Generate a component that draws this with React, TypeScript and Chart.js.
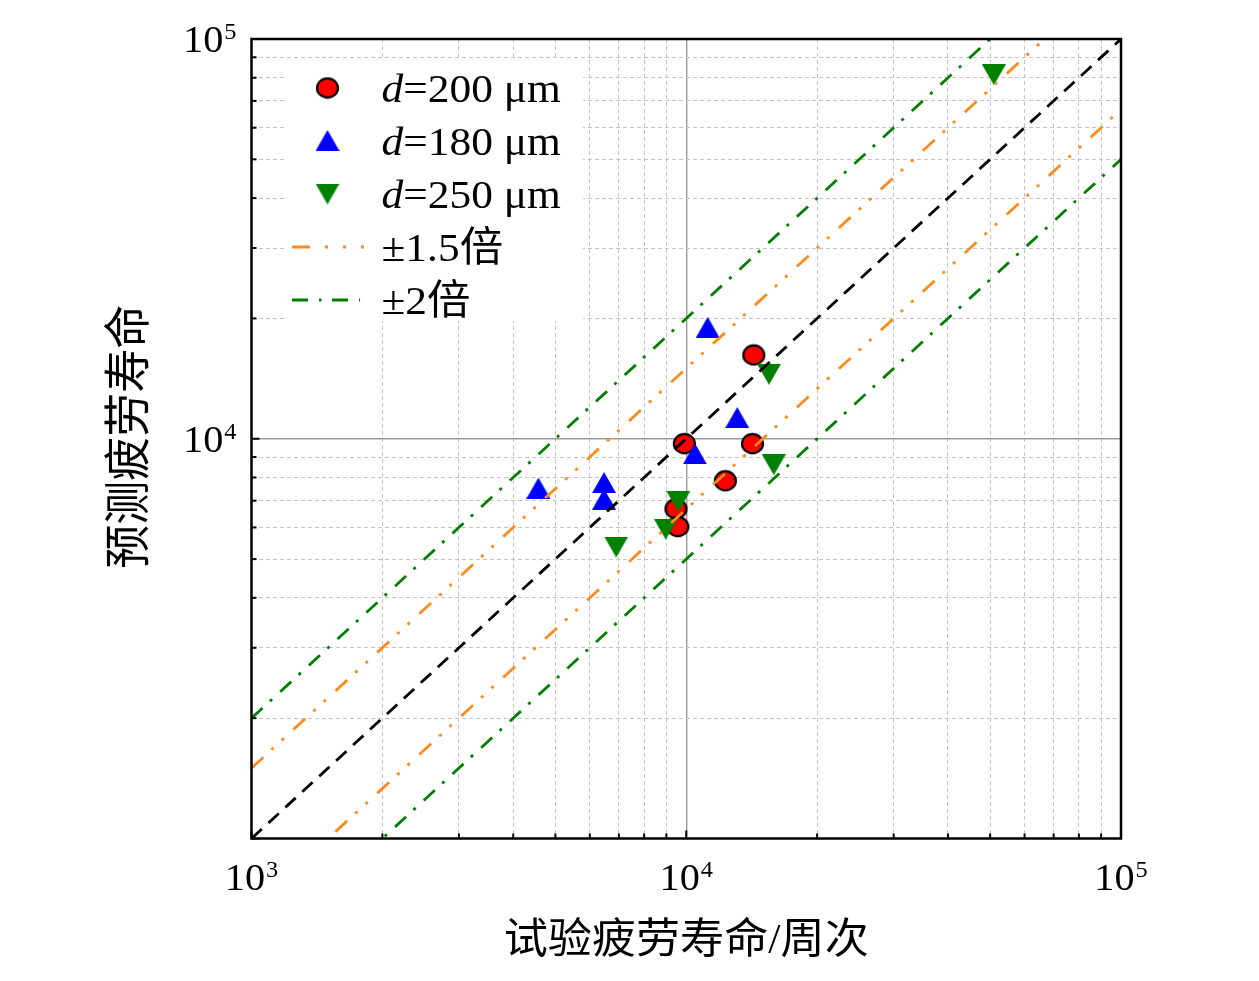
import React, { useEffect, useRef } from 'react';
import { Chart, registerables } from 'chart.js';

Chart.register(...registerables);

// ---- data ----
const redX = [9900, 14300, 14200, 12300, 9470, 9560];
const redY = [9720, 16200, 9720, 7850, 6680, 6030];
const blueX = [11200, 13100, 10470, 4570, 6470, 6470];
const blueY = [19000, 11300, 9170, 7530, 7770, 7060];
const greenX = [51000, 15500, 15900, 9590, 8970, 6900];
const greenY = [81400, 14500, 8610, 6970, 5940, 5360];

const lineX = [1000, 100000];
const ratioEqual = 1;
const ratioOrange = 1.5;
const ratioGreen = 2;

const legendLabels = ['200', '180', '250'];
const bandLabels = ['±1.5倍', '±2倍'];
const xTitle = '试验疲劳寿命/周次';
const yTitle = '预测疲劳寿命';

const xTickExps = [3, 4, 5];
const yTickExps = [4, 5];
const gridVals = [
  1000, 2000, 3000, 4000, 5000, 6000, 7000, 8000, 9000,
  10000, 20000, 30000, 40000, 50000, 60000, 70000, 80000, 90000,
  100000,
];
const majorVals = [1000, 10000, 100000];

const RED = '#ff0000';
const BLUE = '#0000ff';
const GREEN = '#008000';
const ORANGE = '#ff8a1c';
const SERIF = '"Liberation Serif", "Noto Sans CJK SC", serif';
const SX = 1.06;

function pts(xs: number[], ys: number[]) {
  return xs.map((x, i) => ({ x, y: ys[i] }));
}
function ratioLine(r: number) {
  return lineX.map((x) => ({ x, y: x * r }));
}

function makeCircle() {
  const c = document.createElement('canvas');
  c.width = 25; c.height = 23;
  const g = c.getContext('2d')!;
  g.beginPath();
  g.ellipse(12.5, 11.5, 10.5, 9.6, 0, 0, Math.PI * 2);
  g.fillStyle = RED; g.fill();
  g.lineWidth = 2.2; g.strokeStyle = '#000'; g.stroke();
  return c;
}
function makeTri(up: boolean, color: string) {
  const c = document.createElement('canvas');
  c.width = 24; c.height = 21;
  const g = c.getContext('2d')!;
  g.beginPath();
  if (up) { g.moveTo(12, 0); g.lineTo(24, 21); g.lineTo(0, 21); }
  else { g.moveTo(0, 0); g.lineTo(24, 0); g.lineTo(12, 21); }
  g.closePath();
  g.fillStyle = color; g.fill();
  return c;
}

function drawText(ctx: CanvasRenderingContext2D, text: string, x: number, y: number, font: string, align: string, sx = SX, baseline: CanvasTextBaseline = 'alphabetic') {
  ctx.save();
  ctx.font = font;
  ctx.textAlign = 'left';
  ctx.textBaseline = baseline;
  const w = ctx.measureText(text).width * sx;
  const x0 = align === 'left' ? x : align === 'center' ? x - w / 2 : x - w;
  ctx.translate(x0, y);
  ctx.scale(sx, 1);
  ctx.fillStyle = '#000';
  ctx.fillText(text, 0, 0);
  ctx.restore();
  return w;
}

function powWidth(ctx: CanvasRenderingContext2D, exp: number) {
  ctx.save();
  ctx.font = `38px ${SERIF}`;
  const a = ctx.measureText('10').width * SX;
  ctx.font = `23px ${SERIF}`;
  const b = ctx.measureText(String(exp)).width * SX;
  ctx.restore();
  return { a, b };
}
function drawPow(ctx: CanvasRenderingContext2D, exp: number, x: number, baseline: number, align: string) {
  const { a, b } = powWidth(ctx, exp);
  const total = a + b + 1;
  const x0 = align === 'center' ? x - total / 2 : align === 'right' ? x - total : x;
  drawText(ctx, '10', x0, baseline, `38px ${SERIF}`, 'left');
  drawText(ctx, String(exp), x0 + a + 1, baseline - 13, `23px ${SERIF}`, 'left');
}

export default function App() {
  const ref = useRef<HTMLCanvasElement | null>(null);

  useEffect(() => {
    document.body.style.margin = '0';
    const canvas = ref.current;
    if (!canvas) return;
    const circ = makeCircle();
    const up = makeTri(true, BLUE);
    const down = makeTri(false, GREEN);

    const isMajor = (v: number) => majorVals.includes(v);
    const gridColor = (c: any) => (c.tick && c.tick.value === 10000 ? '#9a9a9a' : '#c4c4c4');
    const gridWidth = (c: any) => (c.tick && c.tick.value === 10000 ? 1.4 : 1);
    const gridDash = (c: any) => (c.tick && c.tick.value === 10000 ? [] : [4, 3]);

    const deco = {
      id: 'deco',
      beforeDraw(chart: any) {
        const { ctx, width, height } = chart;
        ctx.save();
        ctx.fillStyle = '#fff';
        ctx.fillRect(0, 0, width, height);
        ctx.restore();
      },
      afterDatasetsDraw(chart: any) {
        const { ctx, chartArea: a, scales } = chart;
        const xs = scales.x, ys = scales.y;

        // legend
        ctx.save();
        ctx.fillStyle = '#fff';
        ctx.fillRect(285, 60, 298, 261);
        ctx.restore();
        const rows = [88, 140.5, 194, 247, 300];
        const mx = 327.5, tx = 381.5;
        const imgs = [circ, up, down];
        const lf = 41;
        imgs.forEach((im, i) => {
          ctx.drawImage(im, mx - im.width / 2, rows[i] - im.height / 2);
          const base = rows[i] + 14;
          const w = drawText(ctx, 'd', tx, base, `italic ${lf}px ${SERIF}`, 'left');
          drawText(ctx, `=${legendLabels[i]} μm`, tx + w, base, `${lf}px ${SERIF}`, 'left');
        });
        const bandStyles = [
          { color: ORANGE, dash: [18, 15, 3, 15, 3, 15, 3, 20], end: 364 },
          { color: GREEN, dash: [16, 11, 2.5, 10.5], end: 360 },
        ];
        bandStyles.forEach((s, i) => {
          const yy = rows[3 + i];
          ctx.save();
          ctx.strokeStyle = s.color;
          ctx.lineWidth = 2.8;
          ctx.setLineDash(s.dash);
          ctx.beginPath();
          ctx.moveTo(292, yy);
          ctx.lineTo(s.end, yy);
          ctx.stroke();
          ctx.restore();
          drawText(ctx, bandLabels[i], tx, yy + 14, `${lf}px ${SERIF}`, 'left');
        });

        // frame
        ctx.save();
        ctx.strokeStyle = '#000';
        ctx.lineWidth = 2.5;
        ctx.strokeRect(a.left, a.top, a.right - a.left, a.bottom - a.top);
        // inward ticks on bottom and left axes
        ctx.lineWidth = 2;
        gridVals.forEach((v) => {
          const len = isMajor(v) ? 8 : 5;
          const px = xs.getPixelForValue(v);
          ctx.beginPath();
          ctx.moveTo(px, a.bottom);
          ctx.lineTo(px, a.bottom - len);
          ctx.stroke();
          const py = ys.getPixelForValue(v);
          ctx.beginPath();
          ctx.moveTo(a.left, py);
          ctx.lineTo(a.left + len, py);
          ctx.stroke();
        });
        ctx.restore();

        // tick labels
        xTickExps.forEach((e) => {
          drawPow(ctx, e, xs.getPixelForValue(Math.pow(10, e)), a.bottom + 51.5, 'center');
        });
        yTickExps.forEach((e) => {
          drawPow(ctx, e, a.left - 15, ys.getPixelForValue(Math.pow(10, e)) + 13, 'right');
        });

        // axis titles
        drawText(ctx, xTitle, (a.left + a.right) / 2, 942, `42px ${SERIF}`, 'center', 1.05, 'middle');
        ctx.save();
        ctx.translate(132, (a.top + a.bottom) / 2 - 2);
        ctx.rotate(-Math.PI / 2);
        ctx.scale(1, 1.05);
        ctx.font = `44px ${SERIF}`;
        ctx.textAlign = 'center';
        ctx.textBaseline = 'middle';
        ctx.fillStyle = '#000';
        ctx.fillText(yTitle, 0, 0);
        ctx.restore();
      },
    };

    const lineDs = (label: string, r: number, color: string, dash: number[]) => ({
      label,
      data: ratioLine(r),
      showLine: true,
      borderColor: color,
      borderWidth: 2.8,
      borderDash: dash,
      pointRadius: 0,
      fill: false,
      clip: 0,
      order: 0,
    });

    const chart = new Chart(canvas, {
      type: 'scatter',
      data: {
        datasets: [
          { label: 'd=200 μm', data: pts(redX, redY), pointStyle: circ as any, pointRadius: 10, order: 3 },
          { label: 'd=180 μm', data: pts(blueX, blueY), pointStyle: up as any, pointRadius: 10, order: 2 },
          { label: 'd=250 μm', data: pts(greenX, greenY), pointStyle: down as any, pointRadius: 10, order: 1 },
          lineDs('1:1', ratioEqual, '#000', [14, 9]),
          lineDs('+1.5', ratioOrange, ORANGE, [16, 11, 3, 11, 3, 13]),
          lineDs('-1.5', 1 / ratioOrange, ORANGE, [16, 11, 3, 11, 3, 13]),
          lineDs('+2', ratioGreen, GREEN, [15, 10, 3, 11]),
          lineDs('-2', 1 / ratioGreen, GREEN, [15, 10, 3, 11]),
        ] as any,
      },
      options: {
        animation: false,
        responsive: true,
        maintainAspectRatio: false,
        events: [],
        layout: { padding: { left: 251.5, right: 138, top: 39, bottom: 142.5 } },
        plugins: { legend: { display: false }, tooltip: { enabled: false } },
        scales: {
          x: {
            type: 'logarithmic',
            min: 1000,
            max: 100000,
            afterBuildTicks: (s: any) => { s.ticks = gridVals.map((v) => ({ value: v })); },
            ticks: { display: false },
            grid: { drawTicks: false, color: gridColor, lineWidth: gridWidth },
            border: { display: false, dash: gridDash },
          },
          y: {
            type: 'logarithmic',
            min: 1000,
            max: 100000,
            afterBuildTicks: (s: any) => { s.ticks = gridVals.map((v) => ({ value: v })); },
            ticks: { display: false },
            grid: { drawTicks: false, color: gridColor, lineWidth: gridWidth },
            border: { display: false, dash: gridDash },
          },
        } as any,
      },
      plugins: [deco],
    });
    return () => chart.destroy();
  }, []);

  return (
    <div style={{ width: 1259, height: 981, position: 'relative' }}>
      <canvas ref={ref} />
    </div>
  );
}
